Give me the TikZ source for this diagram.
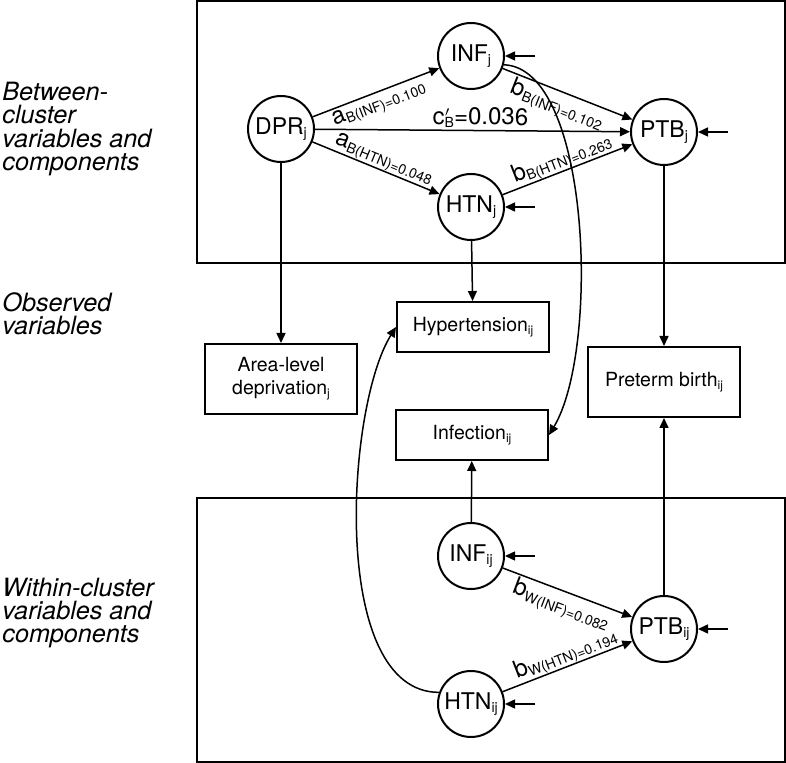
\documentclass[tikz,border=0pt]{standalone}
\usepackage{fontspec}
\setmainfont{TeX Gyre Heros}
\usetikzlibrary{arrows.meta, positioning, calc}
\tikzstyle{latent} = [circle, draw=black, line width=1pt, minimum size=33pt, inner sep=0pt, font=\fontsize{11.5}{12}\selectfont]
\tikzstyle{observed} = [rectangle, draw=black, line width=1pt, minimum width=76pt, text centered, align=center, font=\fontsize{9.75}{11.5}\selectfont]
\tikzstyle{level} = [anchor=west, align=left, inner sep=0pt, font=\fontsize{12.6}{11.7}\selectfont\itshape]
\tikzstyle{arrow} = [line width=0.75pt, -{Triangle[length=5pt,width=4.5pt]}]
\tikzstyle{coef} = [sloped, inner sep=1pt, font=\fontsize{12}{12}\selectfont]
\newcommand{\idx}[1]{\raisebox{-1.5pt}{\fontsize{7}{7}\selectfont #1}}
\newcommand{\bidx}[1]{\raisebox{-1.5pt}{\fontsize{6}{6}\selectfont #1}}
\begin{document}
\begin{tikzpicture}[x=0.5pt, y=-0.5pt]
\useasboundingbox (0,0) rectangle (786,763);

% Levels
\node (between) [level] at (2,129) {Between-\\cluster\\variables and\\components};
\node (obslevel) [level] at (2,314) {Observed\\variables};
\node (within) [level] at (2,613) {Within-cluster\\variables and\\components};

% Frames
\draw [line width=1pt] (197,1) rectangle (785,263);
\draw [line width=1pt] (197,498) rectangle (785,762);

% Between-cluster components
\node (DPRj) [latent] at (281,129) {DPR\idx{j}};
\node (INFj) [latent] at (471,56) {INF\idx{j}};
\node (HTNj) [latent] at (471,207) {HTN\idx{j}};
\node (PTBj) [latent] at (664,132) {PTB\idx{j}};

% Observed variables
\node (hypertension) [observed, minimum height=25pt] at (473,327) {Hypertension\bidx{ij}};
\node (area) [observed, minimum height=35pt] at (281,379) {Area-level\\deprivation\bidx{j}};
\node (preterm) [observed, minimum height=35pt] at (664,382) {Preterm birth\bidx{ij}};
\node (infection) [observed, minimum height=25pt] at (472,435) {Infection\bidx{ij}};

% Within-cluster components
\node (INFij) [latent] at (471,556) {INF\idx{ij}};
\node (PTBij) [latent] at (664,629) {PTB\idx{ij}};
\node (HTNij) [latent] at (471,704) {HTN\idx{ij}};

% Between paths
\draw [arrow] (DPRj) -- node[coef, pos=0.49, below] {a\idx{B(INF)=0.100}} (INFj);
\draw [arrow] (DPRj) -- node[coef, pos=0.525, above] {c\rlap{\raisebox{4pt}{\fontsize{7}{7}\selectfont$\prime$}}\idx{B}=0.036} (PTBj);
\draw [arrow] (DPRj) -- node[coef, pos=0.53, above, inner sep=0pt] {a\idx{B(HTN)=0.048}} (HTNj);
\draw [arrow] (INFj) -- node[coef, pos=0.46, below] {b\idx{B(INF)=0.102}} (PTBj);
\draw [arrow] (HTNj) -- node[coef, pos=0.49, above, inner sep=0pt] {b\idx{B(HTN)=0.263}} (PTBj);

% Within paths
\draw [arrow] (INFij) -- node[coef, pos=0.49, below] {b\idx{W(INF)=0.082}} (PTBij);
\draw [arrow] (HTNij) -- node[coef, pos=0.52, above, inner sep=0pt] {b\idx{W(HTN)=0.194}} (PTBij);

% Residuals
\foreach \n in {INFj, HTNj, PTBj, INFij, HTNij, PTBij} {
  \coordinate (e\n) at ([xshift=15pt]\n.east);
  \draw [arrow] (e\n) -- (\n.east);
}

% Links to observed variables
\draw [arrow] (DPRj) -- (area);
\draw [arrow] (HTNj) -- (hypertension);
\draw [arrow] (PTBj) -- (preterm);
\draw [arrow] (INFij) -- (infection);
\draw [arrow] (PTBij) -- (preterm);
\draw [arrow] (INFj.-15) .. controls +(87,3) and +(51,-85) .. (infection.east);
\draw [arrow] (HTNij.160) .. controls +(-110,0) and +(-50,80) .. (hypertension.west);

\end{tikzpicture}
\end{document}
